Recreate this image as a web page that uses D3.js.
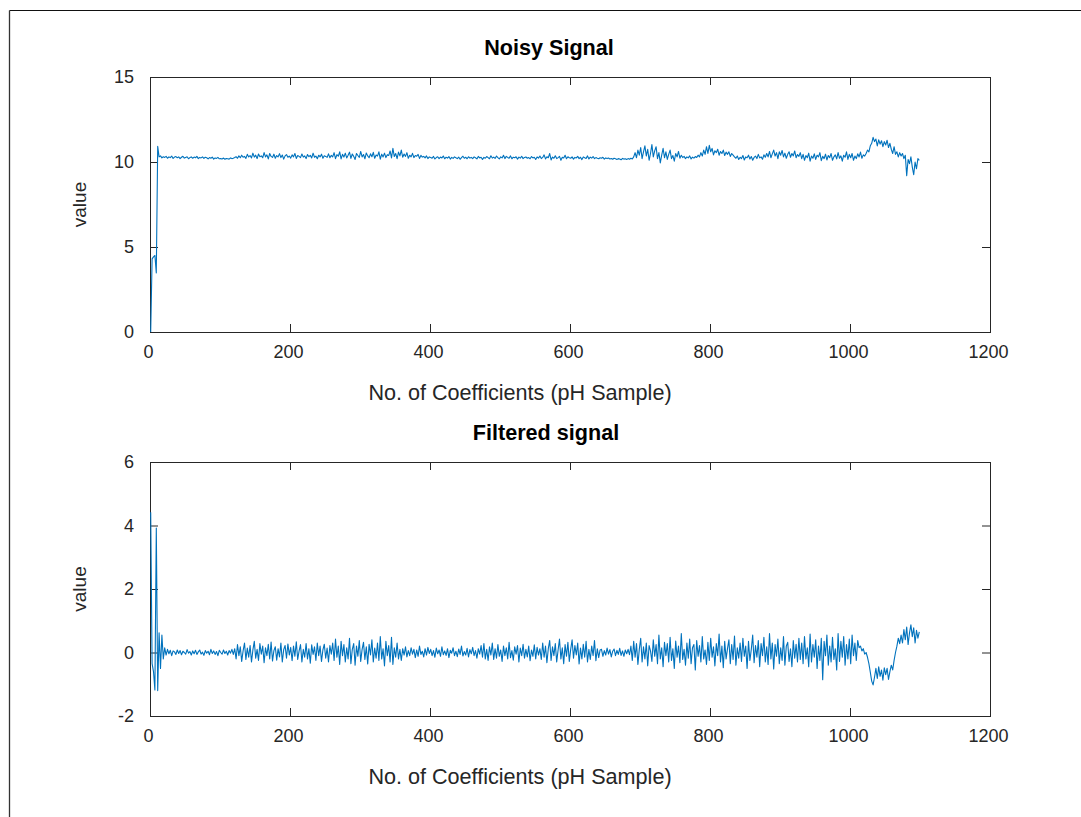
<!DOCTYPE html>
<html><head><meta charset="utf-8">
<script src="https://cdn.jsdelivr.net/npm/d3@7"></script>
<style>
body{margin:0;background:#fff}
svg{display:block}
text{font-family:"Liberation Sans",Arial,Helvetica,sans-serif}
</style>
</head><body><svg id="c" width="1081" height="817"></svg>
<script>
// ---------------- data ----------------
const xTicks = [0, 200, 400, 600, 800, 1000, 1200];
const noisyYTicks = [0, 5, 10, 15];
const filteredYTicks = [-2, 0, 2, 4, 6];
const xLabel = "No. of Coefficients (pH Sample)";
const yLabel = "value";
const titles = ["Noisy Signal", "Filtered signal"];
const firstSample = 1, sampleStep = 2;

const noisySignal = [
0,4.3,4.42,4.5,3.48,10.92,10.3,10.36,10.24,10.31,
10.27,10.33,10.22,10.3,10.26,10.35,10.21,10.29,10.32,10.25,
10.3,10.2,10.28,10.34,10.23,10.27,10.31,10.19,10.26,10.3,
10.22,10.29,10.25,10.33,10.2,10.27,10.24,10.3,10.21,10.28,
10.25,10.18,10.26,10.22,10.29,10.17,10.24,10.21,10.27,10.19,
10.2,10.18,10.23,10.16,10.21,10.19,10.17,10.24,10.2,10.22,
10.26,10.31,10.22,10.36,10.25,10.4,10.28,10.33,10.21,10.45,
10.3,10.38,10.24,10.52,10.29,10.4,10.2,10.47,10.31,10.36,
10.25,10.55,10.3,10.42,10.18,10.5,10.33,10.27,10.46,10.22,
10.38,10.3,10.49,10.26,10.41,10.17,10.36,10.44,10.28,10.35,
10.23,10.42,10.3,10.5,10.21,10.38,10.33,10.26,10.47,10.29,
10.36,10.2,10.44,10.31,10.39,10.24,10.52,10.28,10.35,10.19,
10.4,10.3,10.46,10.22,10.37,10.33,10.27,10.48,10.25,10.39,
10.3,10.55,10.2,10.43,10.34,10.6,10.18,10.45,10.29,10.52,
10.24,10.4,10.58,10.21,10.47,10.33,10.15,10.5,10.38,10.27,
10.62,10.3,10.44,10.19,10.53,10.36,10.25,10.48,10.31,10.57,
10.22,10.41,10.35,10.6,10.17,10.46,10.3,10.52,10.26,10.43,
10.38,10.65,10.24,10.8,10.32,10.5,10.2,10.58,10.36,10.7,
10.28,10.47,10.33,10.55,10.22,10.4,10.3,10.51,10.26,10.38,
10.34,10.45,10.21,10.39,10.29,10.33,10.24,10.36,10.2,10.3,
10.27,10.22,10.33,10.18,10.26,10.31,10.2,10.29,10.24,10.35,
10.19,10.28,10.23,10.32,10.17,10.27,10.21,10.3,10.25,10.2,
10.29,10.16,10.26,10.34,10.22,10.28,10.19,10.31,10.23,10.27,
10.2,10.3,10.25,10.18,10.33,10.24,10.28,10.15,10.27,10.22,
10.32,10.26,10.19,10.37,10.23,10.29,10.21,10.35,10.26,10.18,
10.3,10.24,10.4,10.2,10.33,10.27,10.22,10.36,10.19,10.28,
10.25,10.31,10.17,10.29,10.23,10.34,10.2,10.27,10.3,10.22,
10.26,10.19,10.32,10.24,10.28,10.15,10.3,10.23,10.35,10.2,
10.27,10.42,10.18,10.31,10.25,10.5,10.12,10.29,10.22,10.37,
10.2,10.26,10.33,10.1,10.28,10.24,10.4,10.19,10.31,10.25,
10.22,10.3,10.17,10.27,10.24,10.33,10.2,10.28,10.14,10.3,
10.25,10.21,10.36,10.18,10.29,10.23,10.32,10.2,10.26,10.22,
10.19,10.25,10.22,10.28,10.17,10.24,10.2,10.23,10.18,10.21,
10.16,10.22,10.19,10.15,10.2,10.18,10.13,10.21,10.17,10.19,
10.15,10.2,10.16,10.22,10.18,
10.3,10.55,10.25,10.7,10.4,10.85,10.2,10.6,10.95,10.35,
10.75,10.1,10.5,11.02,10.3,10.65,10.9,10.2,10.55,9.95,
10.4,10.8,10.25,10.6,10.15,10.45,10.7,10.2,10.38,10.05,
10.5,10.3,10.62,10.22,10.4,
10.26,10.33,10.2,10.3,10.24,10.36,10.18,10.29,10.23,10.32,10.27,10.4,10.3,10.55,10.35,
10.7,10.45,10.9,10.5,10.98,10.6,10.8,10.42,10.66,10.55,
10.75,10.4,10.62,10.5,10.7,10.38,10.58,10.45,10.6,10.33,
10.5,10.4,10.3,
10.22,10.35,10.15,10.28,10.2,10.38,10.12,10.3,10.25,10.4,
10.18,10.32,10.1,10.27,10.35,10.2,10.45,10.24,10.3,10.16,
10.42,10.28,
10.5,10.3,10.62,10.25,10.48,10.7,10.35,10.55,10.2,10.6,
10.4,10.68,10.3,10.52,10.22,10.45,10.6,10.28,10.5,10.36,
10.65,10.25,10.44,10.33,10.55,
10.2,10.45,10.1,10.38,10.25,10.52,10.05,10.35,10.22,10.48,
10.15,10.4,10.3,10.55,10.08,10.33,10.2,10.46,10.12,10.38,
10.26,10.5,10.1,10.3,10.42,10.18,10.55,10.22,10.36,10.05,
10.4,10.28,10.6,10.15,10.45,10.25,10.5,10.1,10.35,10.2,
10.48,10.3,10.58,10.22,10.42,10.35,
10.5,10.7,10.6,10.95,11.1,11.45,11.2,
11.35,10.95,11.3,11.05,11.25,10.9,11.2,11.0,11.28,10.85,11.1,
10.75,10.5,10.9,10.45,10.6,10.3,10.55,10.35,10.5,10.2,10.4,
9.2,10.15,9.9,10.3,9.7,9.25,10.0,9.6,10.2,10.1
];

const filteredSignal = [
4.42,-0.35,-0.6,-1.18,3.92,-1.2,0.62,-0.5,0.55,-0.2,
0.15,-0.08,0.1,-0.04,0.07,-0.1,0.05,0.02,-0.06,0.08,
-0.03,0.06,-0.07,0.04,0.0,-0.05,0.09,-0.02,0.03,-0.08,
0.05,-0.04,0.07,-0.06,0.02,0.08,-0.05,0.01,-0.09,0.06,
-0.02,0.04,-0.07,0.1,-0.03,0.05,-0.06,0.03,-0.1,0.07,
0.0,-0.05,0.08,-0.03,0.04,-0.08,0.06,-0.02,0.1,-0.06,
0.12,-0.2,0.25,-0.1,0.18,-0.28,0.05,0.3,-0.22,0.14,
-0.15,0.22,-0.3,0.08,0.35,-0.18,0.1,-0.25,0.28,-0.05,
0.2,-0.32,0.15,-0.1,0.26,-0.2,0.33,-0.27,0.06,0.18,
-0.24,0.12,-0.14,0.3,-0.3,0.09,0.22,-0.18,0.27,-0.08,
0.16,-0.26,0.2,-0.12,0.34,-0.22,0.05,0.25,-0.3,0.1,
-0.15,0.28,-0.2,0.12,-0.34,0.24,-0.06,0.18,-0.25,0.3,
-0.1,0.2,-0.28,0.08,0.26,-0.18,0.14,-0.3,0.22,-0.05,
0.3,-0.25,0.42,-0.15,0.2,-0.38,0.35,-0.1,0.25,-0.3,
0.15,-0.2,0.45,-0.35,0.1,0.28,-0.4,0.2,-0.12,0.38,
-0.28,0.1,0.32,-0.22,0.18,-0.36,0.26,-0.08,0.4,-0.3,
0.14,-0.18,0.3,-0.25,0.5,-0.2,0.12,-0.42,0.35,-0.1,
0.22,-0.3,0.48,-0.38,0.15,-0.15,0.3,-0.2,0.1,-0.25,
0.12,-0.08,0.18,-0.14,0.06,-0.1,0.15,-0.05,0.1,-0.16,
0.08,-0.12,0.2,-0.06,0.04,-0.14,0.12,-0.08,0.16,-0.03,
0.1,-0.1,0.06,-0.15,0.14,-0.04,0.08,-0.12,0.18,-0.07,
0.05,-0.09,0.12,-0.16,0.07,-0.02,0.15,-0.1,0.04,-0.13,
0.11,-0.06,0.2,-0.11,0.03,-0.08,0.13,-0.14,0.09,-0.04,
0.16,-0.1,0.06,-0.18,0.12,-0.05,
0.22,-0.15,0.28,-0.2,0.1,-0.25,0.18,-0.08,0.3,-0.22,
0.12,-0.18,0.25,-0.12,0.08,-0.28,0.2,-0.1,0.15,-0.2,
0.32,-0.16,0.06,-0.24,0.18,-0.05,0.22,-0.3,0.14,-0.1,
0.26,-0.18,0.1,-0.14,0.2,-0.26,0.08,-0.12,0.24,-0.2,
0.16,-0.08,0.12,
-0.22,0.3,-0.15,0.2,-0.32,0.12,0.38,-0.25,0.18,-0.1,
0.28,-0.3,0.08,0.42,-0.2,0.15,-0.35,0.25,-0.12,0.32,
-0.28,0.1,0.4,-0.18,0.22,-0.08,0.3,-0.36,0.14,-0.2,
0.26,-0.15,0.35,-0.3,0.1,-0.22,0.2,-0.1,0.38,-0.26,
0.12,-0.16,0.08,
0.1,-0.12,0.06,-0.08,0.14,-0.05,0.09,-0.14,0.04,0.11,
-0.1,0.07,-0.06,0.13,-0.09,0.05,-0.12,0.08,-0.04,0.1,-0.07,
0.2,-0.25,0.35,-0.15,0.28,-0.38,0.1,0.45,-0.3,0.18,
-0.2,0.3,-0.42,0.22,0.05,-0.28,0.4,-0.12,0.25,-0.35,
0.55,-0.2,0.15,-0.45,0.32,-0.1,0.28,-0.3,0.48,-0.25,
0.12,-0.5,0.36,-0.15,0.2,-0.32,0.6,-0.22,0.1,-0.4,
0.3,-0.18,0.42,-0.35,0.15,0.25,-0.55,0.38,-0.12,0.22,
-0.3,0.5,-0.2,0.08,-0.38,0.32,-0.25,0.45,-0.15,0.18,
-0.42,0.28,-0.1,0.58,-0.3,0.2,-0.48,0.35,-0.2,0.12,
0.4,-0.35,0.25,-0.22,0.52,-0.4,0.15,-0.18,0.3,-0.28,
0.45,-0.12,0.2,-0.5,0.35,-0.25,0.1,0.55,-0.32,0.22,
-0.15,0.38,-0.45,0.28,-0.1,0.48,-0.3,0.18,-0.38,0.6,
-0.2,0.3,-0.52,0.25,-0.12,0.42,-0.35,0.15,-0.25,0.5,
-0.4,0.2,0.32,-0.28,0.12,-0.45,0.38,-0.18,0.26,-0.3,
0.45,-0.22,
0.3,-0.35,0.5,-0.2,0.15,-0.45,0.58,-0.3,0.25,-0.15,
0.4,-0.5,0.2,-0.25,0.45,-0.86,0.35,-0.1,0.55,-0.4,
0.2,-0.3,0.48,-0.22,0.12,-0.55,0.6,-0.28,0.35,-0.15,
0.5,-0.4,0.25,-0.2,0.42,-0.35,0.55,-0.1,0.3,-0.25,
0.38,0.15,
0.2,0.05,0.12,-0.05,0.0,-0.15,
-0.35,-0.62,-0.9,-1.02,-0.78,
-0.5,-0.82,-0.45,-0.75,-0.55,-0.87,-0.48,-0.7,-0.5,-0.85,-0.6,-0.4,-0.55,
-0.25,0.0,0.2,0.45,0.28,
0.55,0.3,0.72,0.4,0.8,0.25,0.62,0.87,0.5,0.78,0.3,0.7,0.45,0.65
];

// ---------------- layout ----------------
const svg = d3.select("#c");
const axisColor = "#262626";
const lineColor = "#0072BD";
const L = 150, R = 990;
const fontStack = '"Liberation Sans",Arial,Helvetica,sans-serif';

// outer figure frame (partially visible)
svg.append("line").attr("x1", 9.5).attr("x2", 1081).attr("y1", 10.5).attr("y2", 10.5)
  .attr("stroke", "#111").attr("stroke-width", 1);
svg.append("line").attr("x1", 9.5).attr("x2", 9.5).attr("y1", 10.5).attr("y2", 817)
  .attr("stroke", "#333").attr("stroke-width", 1.3);

const panels = [
  { title: titles[0], values: noisySignal, yDomain: [0, 15], yTicks: noisyYTicks, top: 77, bottom: 332, titleX: 549 },
  { title: titles[1], values: filteredSignal, yDomain: [-2, 6], yTicks: filteredYTicks, top: 462, bottom: 716, titleX: 546 }
];

const fmt = d => String(d);

panels.forEach(p => {
  const x = d3.scaleLinear().domain([0, 1200]).range([L, R]);
  const y = d3.scaleLinear().domain(p.yDomain).range([p.bottom, p.top]);
  const g = svg.append("g");

  const styleAxis = sel => {
    sel.selectAll("path.domain").remove();
    sel.selectAll("line").attr("stroke", axisColor).attr("stroke-width", 1);
    sel.selectAll("text").attr("fill", axisColor).style("font-size", "18px")
      .style("font-family", fontStack);
  };

  g.append("g").attr("transform", `translate(0,${p.bottom})`)
    .call(d3.axisBottom(x).tickValues(xTicks).tickFormat(fmt).tickSizeInner(-8).tickSizeOuter(0).tickPadding(13))
    .call(styleAxis)
    .selectAll("text").attr("dx", -2);
  g.append("g").attr("transform", `translate(0,${p.top})`)
    .call(d3.axisTop(x).tickValues(xTicks).tickSizeInner(-8).tickSizeOuter(0).tickFormat(""))
    .call(styleAxis);
  g.append("g").attr("transform", `translate(${L},0)`)
    .call(d3.axisLeft(y).tickValues(p.yTicks).tickFormat(fmt).tickSizeInner(-8).tickSizeOuter(0).tickPadding(16))
    .call(styleAxis);
  g.append("g").attr("transform", `translate(${R},0)`)
    .call(d3.axisRight(y).tickValues(p.yTicks).tickSizeInner(-8).tickSizeOuter(0).tickFormat(""))
    .call(styleAxis);

  // axes box
  g.append("rect").attr("x", L + 0.5).attr("y", p.top + 0.5)
    .attr("width", R - L).attr("height", p.bottom - p.top)
    .attr("fill", "none").attr("stroke", axisColor).attr("stroke-width", 1);

  // data line
  const line = d3.line()
    .x((d, i) => x(firstSample + i * sampleStep))
    .y(d => y(d));
  g.append("path").datum(p.values)
    .attr("d", line).attr("fill", "none")
    .attr("stroke", lineColor).attr("stroke-width", 1.1)
    .attr("stroke-linejoin", "round");

  // title
  g.append("text").attr("x", p.titleX).attr("y", p.top - 22.5)
    .attr("text-anchor", "middle").style("font-size", "21.6px").style("font-weight", "bold")
    .attr("fill", "#000").text(p.title);
  // x label
  g.append("text").attr("x", 520).attr("y", p.bottom + 67.5)
    .attr("text-anchor", "middle").style("font-size", "21.6px")
    .attr("fill", axisColor).text(xLabel);
  // y label
  g.append("text").attr("transform", `translate(86,${(p.top + p.bottom) / 2}) rotate(-90)`)
    .attr("text-anchor", "middle").style("font-size", "19px")
    .attr("fill", axisColor).text(yLabel);
});
</script>
</body></html>
